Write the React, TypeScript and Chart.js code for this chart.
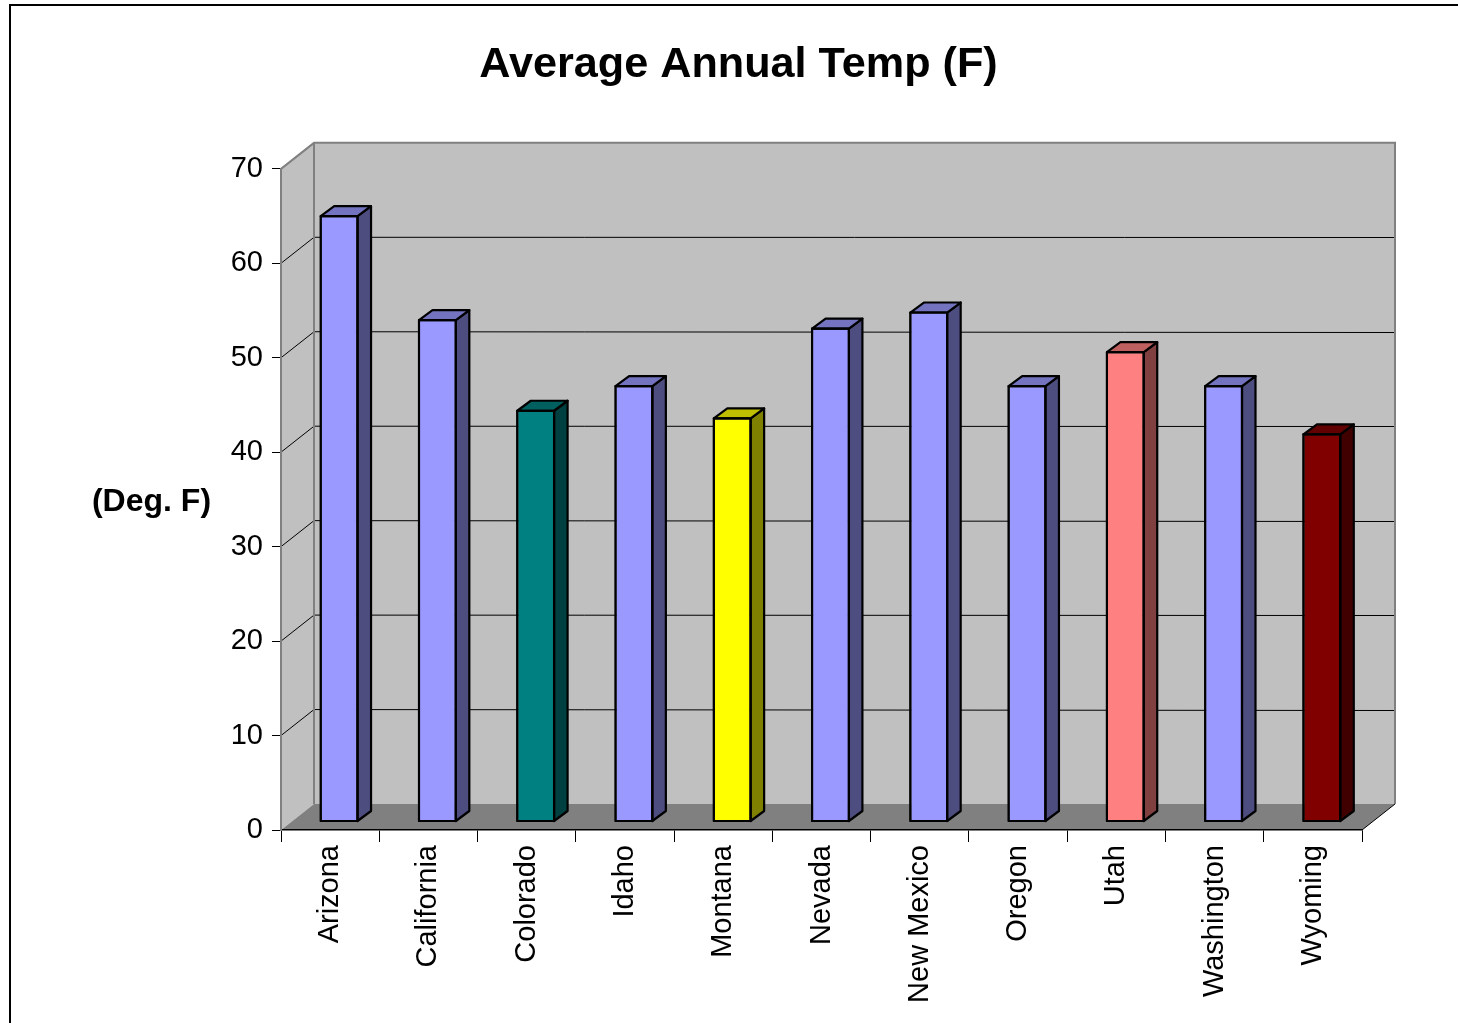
import { useEffect, useRef } from "react";
import { Chart, registerables } from "chart.js";

Chart.register(...registerables);

// ---- data ----
const states = [
  "Arizona",
  "California",
  "Colorado",
  "Idaho",
  "Montana",
  "Nevada",
  "New Mexico",
  "Oregon",
  "Utah",
  "Washington",
  "Wyoming",
];
const avgTemps = [64.3, 53.3, 43.7, 46.3, 42.9, 52.4, 54.1, 46.3, 49.9, 46.3, 41.2];
const barColors = [
  "#9999FF",
  "#9999FF",
  "#008080",
  "#9999FF",
  "#FFFF00",
  "#9999FF",
  "#9999FF",
  "#9999FF",
  "#FF8080",
  "#9999FF",
  "#800000",
];
const yTicks = [0, 10, 20, 30, 40, 50, 60, 70];
const chartTitle = "Average Annual Temp (F)";
const yAxisTitle = "(Deg. F)";

// ---- 3D look ----
const FONT = "'Liberation Sans', Arial, Helvetica, sans-serif";
const WALL_DX = 33; // depth of the plot box
const WALL_DY = -26;
const BAR_SHIFT_X = 9; // bars sit a little behind the front plane
const BAR_SHIFT_Y = -7.5;
const BAR_DX = 13.5; // depth of each bar
const BAR_DY = -10;

function shade(hex: string, f: number): string {
  const n = parseInt(hex.slice(1), 16);
  const r = Math.round(((n >> 16) & 255) * f);
  const g = Math.round(((n >> 8) & 255) * f);
  const b = Math.round((n & 255) * f);
  return `rgb(${r},${g},${b})`;
}

function poly(ctx: CanvasRenderingContext2D, pts: number[][]) {
  ctx.beginPath();
  ctx.moveTo(pts[0][0], pts[0][1]);
  for (let i = 1; i < pts.length; i++) ctx.lineTo(pts[i][0], pts[i][1]);
  ctx.closePath();
}

const box3d = {
  id: "box3d",
  beforeDraw(chart: any) {
    const { ctx, chartArea: a } = chart;
    const yScale = chart.scales.y;
    ctx.save();

    // outer frame
    ctx.strokeStyle = "#000";
    ctx.lineWidth = 2;
    ctx.beginPath();
    ctx.moveTo(10, chart.height + 5);
    ctx.lineTo(10, 5);
    ctx.lineTo(chart.width + 5, 5);
    ctx.stroke();

    const bl = a.left + WALL_DX;
    const br = a.right + WALL_DX;
    const bt = a.top + WALL_DY;
    const bb = a.bottom + WALL_DY;

    // back wall
    ctx.fillStyle = "#c0c0c0";
    ctx.fillRect(bl, bt, br - bl, bb - bt);
    // left wall
    poly(ctx, [
      [a.left, a.top],
      [bl, bt],
      [bl, bb],
      [a.left, a.bottom],
    ]);
    ctx.fill();
    // floor
    ctx.fillStyle = "#808080";
    poly(ctx, [
      [a.left, a.bottom],
      [bl, bb],
      [br, bb],
      [a.right, a.bottom],
    ]);
    ctx.fill();

    // gridlines on left and back walls
    ctx.strokeStyle = "#000";
    ctx.lineWidth = 1;
    yTicks.forEach((v) => {
      if (v === yTicks[0] || v === yTicks[yTicks.length - 1]) return;
      const yf = yScale.getPixelForValue(v);
      const yb = Math.round(yf + WALL_DY) + 0.5;
      ctx.beginPath();
      ctx.moveTo(a.left, yf);
      ctx.lineTo(bl, yf + WALL_DY);
      ctx.lineTo(br, yb);
      ctx.stroke();
    });

    // wall edges
    ctx.strokeStyle = "#808080";
    ctx.lineWidth = 2;
    ctx.beginPath();
    ctx.moveTo(a.left, a.top);
    ctx.lineTo(bl, bt);
    ctx.lineTo(br, bt);
    ctx.lineTo(br, bb);
    ctx.moveTo(bl, bt);
    ctx.lineTo(bl, bb);
    ctx.stroke();

    // right edge of the floor
    ctx.strokeStyle = "#000";
    ctx.lineWidth = 1;
    ctx.beginPath();
    ctx.moveTo(a.right, a.bottom);
    ctx.lineTo(br, bb);
    ctx.stroke();

    ctx.restore();
  },
  beforeDatasetsDraw(chart: any) {
    chart.ctx.save();
    chart.ctx.translate(BAR_SHIFT_X, BAR_SHIFT_Y);
  },
  afterDatasetsDraw(chart: any) {
    const ctx = chart.ctx as CanvasRenderingContext2D;
    const meta = chart.getDatasetMeta(0);
    ctx.lineWidth = 2.2;
    ctx.lineJoin = "round";
    ctx.strokeStyle = "#000";
    meta.data.forEach((bar: any, i: number) => {
      const { x, y, base, width } = bar.getProps(["x", "y", "base", "width"], true);
      const l = x - width / 2 + 1;
      const r = x + width / 2 - 1;
      const t = y + 1;
      const b = base - 1;
      const color = barColors[i];
      // side face
      ctx.fillStyle = shade(color, 0.5);
      poly(ctx, [
        [r, t],
        [r + BAR_DX, t + BAR_DY],
        [r + BAR_DX, b + BAR_DY],
        [r, b],
      ]);
      ctx.fill();
      ctx.stroke();
      // top face
      ctx.fillStyle = shade(color, 0.75);
      poly(ctx, [
        [l, t],
        [l + BAR_DX, t + BAR_DY],
        [r + BAR_DX, t + BAR_DY],
        [r, t],
      ]);
      ctx.fill();
      ctx.stroke();
      // front outline
      ctx.strokeRect(l, t, r - l, b - t);
    });
    ctx.restore();
  },
  afterDraw(chart: any) {
    const ctx = chart.ctx as CanvasRenderingContext2D;
    ctx.save();
    ctx.fillStyle = "#000";
    ctx.font = `bold 32px ${FONT}`;
    ctx.textAlign = "center";
    ctx.textBaseline = "middle";
    ctx.fillText(yAxisTitle, 151.5, 502);
    ctx.restore();
  },
};

export default function App() {
  const canvasRef = useRef<HTMLCanvasElement | null>(null);

  useEffect(() => {
    if (!canvasRef.current) return;
    Chart.defaults.font.family = FONT;
    const chart = new Chart(canvasRef.current, {
      type: "bar",
      data: {
        labels: states,
        datasets: [
          {
            data: avgTemps,
            backgroundColor: barColors,
            borderColor: "#000",
            borderWidth: 2,
            borderSkipped: false,
            categoryPercentage: 1,
            barPercentage: 0.395,
            clip: false,
          } as any,
        ],
      },
      options: {
        responsive: false,
        animation: false,
        devicePixelRatio: 1,
        events: [],
        layout: { padding: { left: 115, right: 96, top: 0, bottom: 0 } },
        plugins: {
          legend: { display: false },
          tooltip: { enabled: false },
          title: {
            display: true,
            text: chartTitle,
            color: "#000",
            font: { size: 43.2, weight: "bold", family: FONT },
            padding: { top: 39, bottom: 78 },
          },
        },
        scales: {
          x: {
            offset: true,
            grid: {
              offset: true,
              drawOnChartArea: false,
              drawTicks: true,
              tickLength: 12,
              color: "#000",
              lineWidth: 1,
            },
            border: { display: true, color: "#000", width: 1.5 },
            ticks: {
              color: "#000",
              font: { size: 29, family: FONT },
              minRotation: 90,
              maxRotation: 90,
              autoSkip: false,
              padding: 3,
            },
            afterFit: (s: any) => {
              s.height = 193;
            },
          },
          y: {
            min: yTicks[0],
            max: yTicks[yTicks.length - 1],
            grid: {
              drawOnChartArea: false,
              drawTicks: true,
              tickLength: 9,
              color: "#000",
              lineWidth: 1,
            },
            border: { display: true, color: "#808080", width: 2 },
            ticks: {
              stepSize: 10,
              color: "#000",
              font: { size: 29, family: FONT },
              padding: 9,
            },
            afterFit: (s: any) => {
              s.width = 166;
            },
          },
        },
      } as any,
      plugins: [box3d],
    });
    return () => chart.destroy();
  }, []);

  return (
    <div style={{ position: "absolute", left: 0, top: 0, width: 1458, height: 1023 }}>
      <canvas ref={canvasRef} width={1458} height={1023} style={{ display: "block" }} />
    </div>
  );
}
